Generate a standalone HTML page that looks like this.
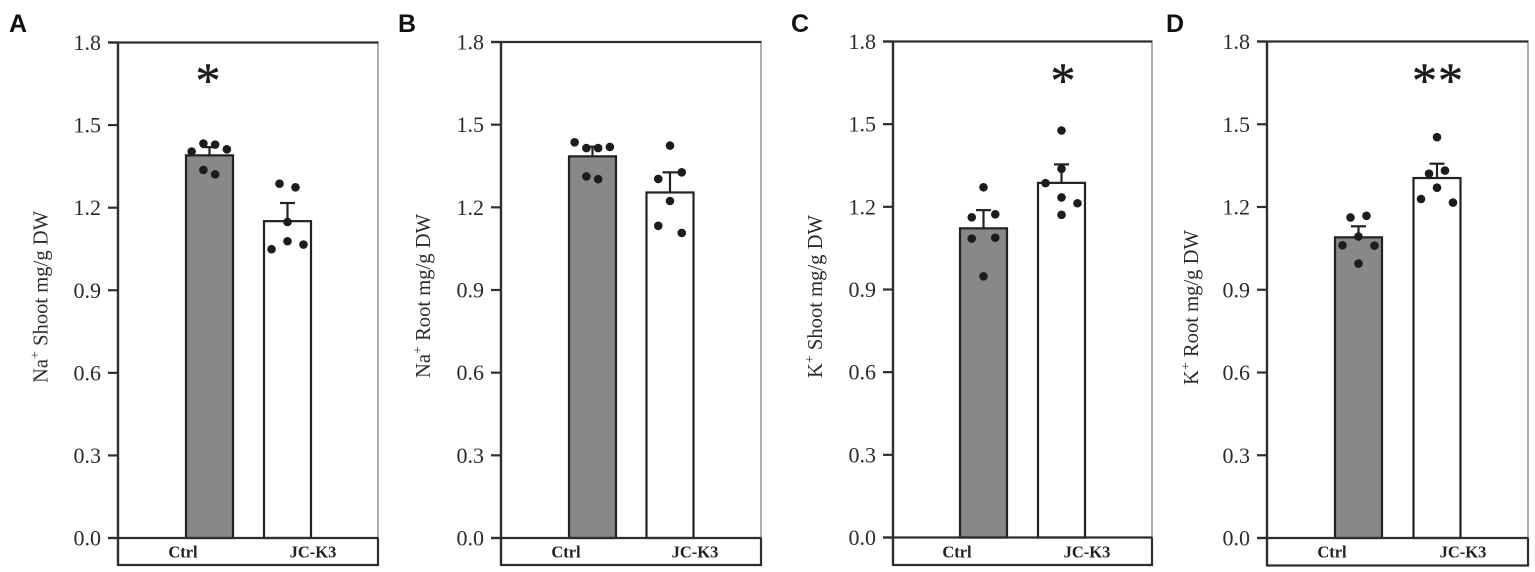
<!DOCTYPE html>
<html>
<head>
<meta charset="utf-8">
<title>Na+ and K+ content in shoot and root</title>
<style>
html,body{margin:0;padding:0;background:#fff;}
svg{display:block;}
text{font-family:"Liberation Serif",serif;fill:#2b2b2b;}
.letter{font-family:"Liberation Sans",sans-serif;font-weight:700;font-size:25px;fill:#111;}
.tick{font-size:22px;text-anchor:end;}
.cat{font-size:16.5px;font-weight:700;text-anchor:middle;fill:#222;}
.title{font-size:20.6px;}
.star{font-size:50px;text-anchor:middle;fill:#1c1c1c;stroke:#1c1c1c;stroke-width:0.5;}
</style>
</head>
<body>
<svg id="figure" width="1535" height="572" viewBox="0 0 1535 572" xmlns="http://www.w3.org/2000/svg"></svg>
<script>
// ---- Chart data ----
const categories = ['Ctrl', 'JC-K3'];
const tickLabels = ['0.0', '0.3', '0.6', '0.9', '1.2', '1.5', '1.8'];
const tickValues = [0, 0.3, 0.6, 0.9, 1.2, 1.5, 1.8];
const panelLetters = ['A', 'B', 'C', 'D'];
const panelIons = ['Na', 'Na', 'K', 'K'];
const panelTissues = ['Shoot', 'Root', 'Shoot', 'Root'];
// mean of each group per panel: [Ctrl, JC-K3]
const means = [[1.39, 1.151], [1.385, 1.254], [1.122, 1.287], [1.09, 1.305]];
// top of the error bar per panel
const errorTops = [[1.42, 1.217], [1.42, 1.327], [1.188, 1.354], [1.13, 1.357]];
// replicates per panel and group
const replicates = [
  [[1.404, 1.433, 1.429, 1.412, 1.337, 1.321], [1.287, 1.274, 1.148, 1.049, 1.078, 1.066]],
  [[1.436, 1.415, 1.415, 1.419, 1.312, 1.302], [1.424, 1.303, 1.327, 1.223, 1.133, 1.107]],
  [[1.271, 1.162, 1.173, 1.085, 1.088, 0.948], [1.477, 1.338, 1.286, 1.234, 1.213, 1.171]],
  [[1.162, 1.168, 1.093, 1.061, 1.06, 0.995], [1.453, 1.321, 1.332, 1.27, 1.229, 1.216]]
];
// swarm jitter of each replicate, as a fraction of bar width
const jitter = [
  [[-0.38, -0.13, 0.12, 0.37, -0.13, 0.12], [-0.17, 0.17, 0, -0.34, 0, 0.34]],
  [[-0.38, -0.13, 0.12, 0.37, -0.13, 0.12], [0, -0.25, 0.25, 0, -0.25, 0.25]],
  [[0, -0.25, 0.25, -0.25, 0.25, 0], [0, 0, -0.34, 0, 0.34, 0]],
  [[-0.17, 0.17, 0, -0.34, 0.34, 0], [0, -0.17, 0.17, 0, -0.34, 0.34]]
];
// significance marks per panel: [Ctrl, JC-K3]
const significance = [['*', ''], ['', ''], ['', '*'], ['', '**']];

// ---- Layout ----
const yMax = 1.8;
const layout = [
  {left: 118, right: 378, top: 42.5, zero: 538, bottom: 565, bar0: 186, bar1: 264, letterX: 9, titleX: 47.5, titleY: 383, cat0: 183, cat1: 313, star: 208},
  {left: 501, right: 761, top: 42, zero: 538, bottom: 565, bar0: 569, bar1: 646.5, letterX: 398, titleX: 430, titleY: 378, cat0: 566, cat1: 695, star: 592},
  {left: 893, right: 1152, top: 41.5, zero: 537.5, bottom: 565, bar0: 960, bar1: 1038, letterX: 791, titleX: 822, titleY: 378, cat0: 957, cat1: 1087, star: 1063},
  {left: 1267, right: 1528, top: 41.5, zero: 538, bottom: 565.5, bar0: 1335, bar1: 1413.5, letterX: 1166, titleX: 1198, titleY: 385, cat0: 1332, cat1: 1463, star: 1438}
];
const barWidth = 47;
const lineWidth = 2.2;
const NS = 'http://www.w3.org/2000/svg';
const svg = document.getElementById('figure');

function make(parent, tag, attrs, text) {
  const el = document.createElementNS(NS, tag);
  for (const k in attrs) el.setAttribute(k, attrs[k]);
  if (text !== undefined) el.textContent = text;
  parent.appendChild(el);
  return el;
}

panelLetters.forEach(function (letter, p) {
  const L = layout[p];
  const y = function (v) { return L.zero - (v / yMax) * (L.zero - L.top); };
  const g = make(svg, 'g', {});
  
  

  const lab = make(g, 'text', {x: L.letterX, y: 32, class: 'letter'}, letter);
  
  

  // frame
  const rightAxis = make(g, 'line', {x1: L.right, x2: L.right, y1: L.top, y2: L.zero, stroke: '#7a7a7a', 'stroke-width': 1.2});
  
  
  const topAxis = make(g, 'line', {x1: L.left - 10, x2: L.right + 0.5, y1: L.top, y2: L.top, stroke: '#2e2e2e', 'stroke-width': lineWidth});
  
  

  // bars, errors
  categories.forEach(function (cat, c) {
    const x0 = c === 0 ? L.bar0 : L.bar1;
    const cx = x0 + barWidth / 2;
    const barTop = y(means[p][c]);

    const errStem = make(g, 'line', {x1: cx, x2: cx, y1: barTop, y2: y(errorTops[p][c]), stroke: '#222', 'stroke-width': lineWidth});
    
    
    const errCap = make(g, 'line', {x1: cx - 7.5, x2: cx + 7.5, y1: y(errorTops[p][c]), y2: y(errorTops[p][c]), stroke: '#222', 'stroke-width': lineWidth});
    
    

    const bar = make(g, 'rect', {x: x0, y: barTop, width: barWidth, height: y(0) - barTop, fill: c === 0 ? '#87888a' : '#ffffff', stroke: '#222', 'stroke-width': lineWidth});
    
    

    replicates[p][c].forEach(function (v, i) {
      const dot = make(g, 'circle', {cx: cx + jitter[p][c][i] * barWidth, cy: y(v), r: 4.3, fill: '#1c1c1e'});
      
      
    });

    const catLab = make(g, 'text', {x: c === 0 ? L.cat0 : L.cat1, y: 557.5, class: 'cat'}, cat);
    
    

    if (significance[p][c]) {
      const star = make(g, 'text', {x: L.star, y: 97, class: 'star'}, significance[p][c]);
      
      
      if (significance[p][c].length > 1) star.setAttribute('letter-spacing', '1');
    }
  });

  // left axis and ticks
  const leftAxis = make(g, 'line', {x1: L.left, x2: L.left, y1: L.top - 1, y2: L.bottom + 1, stroke: '#2e2e2e', 'stroke-width': 2.4});
  
  
  tickValues.forEach(function (v, i) {
    const tk = make(g, 'line', {x1: L.left - 10, x2: L.left, y1: y(v), y2: y(v), stroke: '#2e2e2e', 'stroke-width': lineWidth});
    
    
    const tl = make(g, 'text', {x: L.left - 17, y: y(v) + 7.5, class: 'tick'}, tickLabels[i]);
    
    
  });

  // category strip below axis
  const baseLine = make(g, 'line', {x1: L.left - 10, x2: L.right + 0.5, y1: L.zero, y2: L.zero, stroke: '#2e2e2e', 'stroke-width': lineWidth});
  
  
  const strip = make(g, 'path', {d: 'M' + L.left + ' ' + L.bottom + 'H' + L.right + 'V' + L.zero, fill: 'none', stroke: '#2e2e2e', 'stroke-width': lineWidth});
  
  

  // y axis title
  const title = make(g, 'text', {class: 'title', transform: 'translate(' + L.titleX + ' ' + L.titleY + ') rotate(-90)'});
  
  
  make(title, 'tspan', {}, panelIons[p]);
  make(title, 'tspan', {dy: -8, 'font-size': 14}, '+');
  make(title, 'tspan', {dy: 8}, ' ' + panelTissues[p] + ' mg/g DW');
});
</script>
</body>
</html>
